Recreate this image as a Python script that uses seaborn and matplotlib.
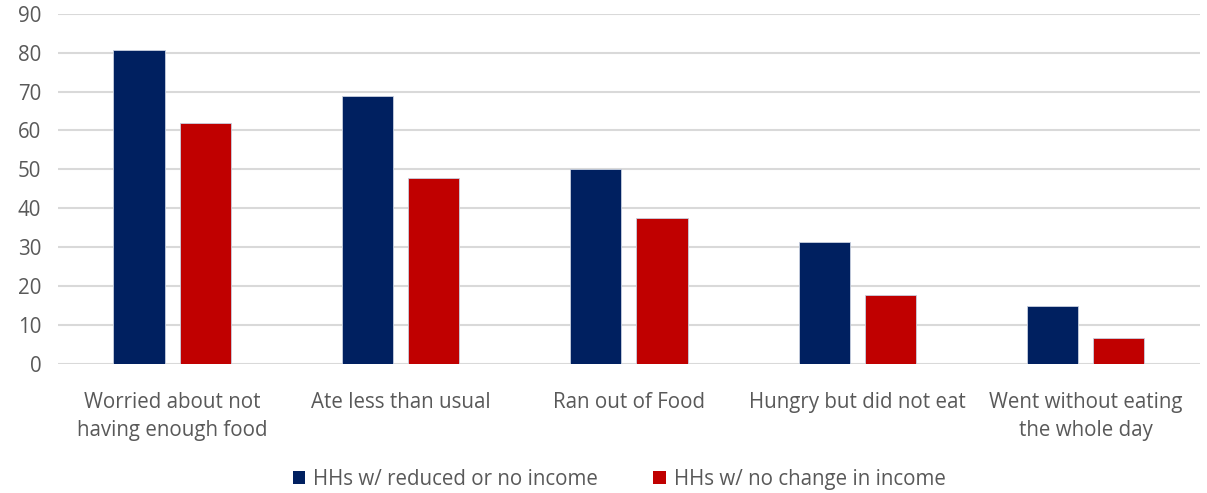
import matplotlib
matplotlib.use("Agg")
import matplotlib.pyplot as plt
import seaborn as sns
import pandas as pd
from matplotlib.patches import Patch

categories = ["Worried about not\nhaving enough food", "Ate less than usual", "Ran out of Food",
              "Hungry but did not eat", "Went without eating\nthe whole day"]
series_names = ["HHs w/ reduced or no income", "HHs w/ no change in income"]
reduced = [80.6, 68.8, 50.1, 31.3, 14.8]
nochange = [61.9, 47.8, 37.4, 17.6, 6.7]
yticks = [0, 10, 20, 30, 40, 50, 60, 70, 80, 90]
colors = ["#002060", "#C00000"]

df = pd.DataFrame({
    "category": categories * 2,
    "series": [series_names[0]] * 5 + [series_names[1]] * 5,
    "value": reduced + nochange,
})

sns.set_theme(style="white")
plt.rcParams['font.family'] = ['Open Sans', 'DejaVu Sans']
text_color = "#595959"
fs = 14.8

fig = plt.figure(figsize=(12.07, 4.93), dpi=100)
ax = fig.add_axes([0.048, 0.262, 0.946, 0.71])
sns.barplot(data=df, x="category", y="value", hue="series", palette=colors,
            saturation=1, width=0.579, gap=0.225, ax=ax, legend=False,
            edgecolor="#c8d0e0", linewidth=0.6)

ax.set_ylim(0, 90)
ax.set_xlim(-0.5, 4.5)
ax.set_yticks(yticks)
ax.set_yticklabels([str(v) for v in yticks], color=text_color, fontsize=fs)
ax.set_xticklabels(categories, color=text_color, fontsize=fs, linespacing=1.45)
ax.tick_params(axis="x", pad=20, length=0)
ax.tick_params(axis="y", pad=12, length=0)
ax.yaxis.grid(True, color="#d9d9d9", linewidth=1.5)
ax.set_axisbelow(True)
for s in ax.spines.values():
    s.set_visible(False)
ax.set_xlabel("")
ax.set_ylabel("")

handles = [Patch(facecolor=c, edgecolor="none") for c in colors]
fig.legend(handles, series_names, loc="center", bbox_to_anchor=(0.513, 0.028), ncol=2,
           frameon=False, fontsize=fs, labelcolor=text_color, handlelength=0.6,
           handleheight=0.6, handletextpad=0.4, columnspacing=2.7)

fig.savefig("out.png", dpi=100)
